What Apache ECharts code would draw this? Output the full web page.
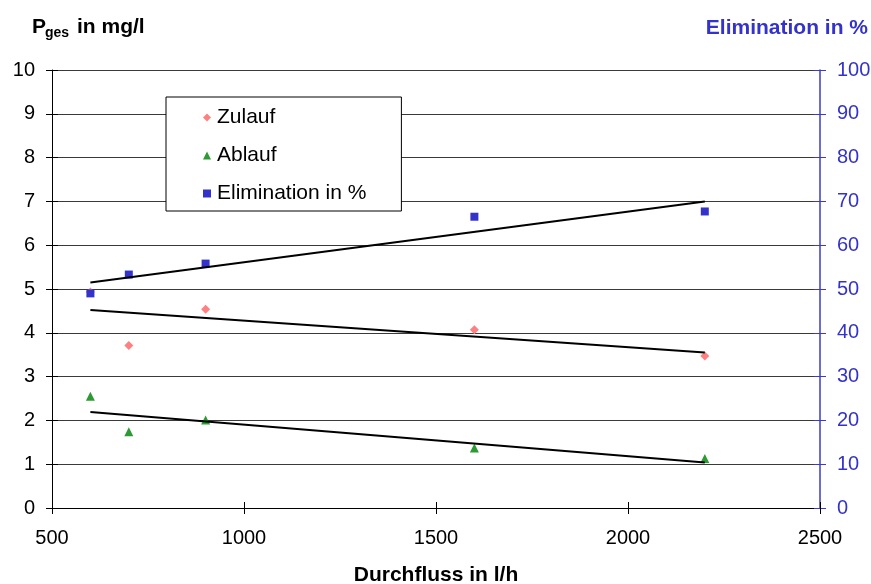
<!DOCTYPE html>
<html><head><meta charset="utf-8">
<script src="https://cdn.jsdelivr.net/npm/echarts@6/dist/echarts.min.js"></script>
<style>html,body{margin:0;padding:0;background:#fff}#c{width:871px;height:584px}</style>
</head><body><div id="c"></div>
<script>
// Data
const flow = [600, 700, 900, 1600, 2200];
const zulauf = [4.93, 3.71, 4.54, 4.07, 3.47];
const ablauf = [2.55, 1.74, 2.01, 1.37, 1.13];
const elimination = [49.0, 53.3, 55.8, 66.5, 67.7];
// Trend line end points
const trendFlow = [600, 2200];
const zulaufTrend = [4.52, 3.55];
const ablaufTrend = [2.19, 1.04];
const eliminationTrend = [51.5, 70.0];
const seriesNames = ['Zulauf', 'Ablauf', 'Elimination in %'];

const FONT = '"Liberation Sans", Arial, sans-serif';
const pairs = (xs, ys) => xs.map((x, i) => [x, ys[i]]);
const plain = v => String(v);

const chart = echarts.init(document.getElementById('c'), null, {renderer: 'canvas'});
const blue = '#3333cc';
const axisBlue = '#3b3bc4';

const xBase = {type: 'value', min: 500, max: 2500, interval: 500, gridIndex: 0};
const yLeftBase = {type: 'value', min: 0, max: 10, interval: 1};
const yRightBase = {type: 'value', min: 0, max: 100, interval: 10};

chart.setOption({
  animation: false,
  backgroundColor: '#fff',
  textStyle: {fontFamily: FONT},
  grid: {left: 52, right: 51, top: 70, bottom: 76, containLabel: false, outerBoundsMode: 'none'},
  legend: {
    orient: 'vertical',
    left: 166, top: 97,
    padding: [10, 35, 7, 37],
    itemGap: 17,
    itemWidth: 8, itemHeight: 8,
    backgroundColor: '#fff',
    borderColor: '#000', borderWidth: 1,
    textStyle: {fontFamily: FONT, fontSize: 21, color: '#000', lineHeight: 21, padding: [0, 0, 0, 1]},
    data: [
      {name: seriesNames[0], icon: 'diamond'},
      {name: seriesNames[1], icon: 'triangle'},
      {name: seriesNames[2], icon: 'rect'}
    ]
  },
  xAxis: [
    Object.assign({}, xBase, {
      position: 'bottom',
      name: 'Durchfluss in l/h', nameLocation: 'middle', nameGap: 57,
      nameTextStyle: {fontFamily: FONT, fontSize: 21, fontWeight: 'bold', color: '#000'},
      axisLine: {show: true, lineStyle: {color: '#000', width: 1}},
      axisTick: {show: true, inside: false, length: 6, lineStyle: {color: '#000'}},
      axisLabel: {fontFamily: FONT, fontSize: 20, color: '#000', margin: 20, formatter: plain},
      splitLine: {show: false}
    }),
    Object.assign({}, xBase, {
      position: 'bottom',
      axisLine: {show: false},
      axisTick: {show: true, inside: true, length: 6, lineStyle: {color: '#000'}},
      axisLabel: {show: false},
      splitLine: {show: false}
    })
  ],
  yAxis: [
    Object.assign({}, yLeftBase, {
      position: 'left',
      axisLine: {show: true, lineStyle: {color: '#000', width: 1}},
      axisTick: {show: true, inside: false, length: 6, lineStyle: {color: '#000'}},
      axisLabel: {fontFamily: FONT, fontSize: 20, color: '#000', margin: 17, formatter: plain},
      splitLine: {show: true, lineStyle: {color: '#3a3a3a', width: 1}}
    }),
    Object.assign({}, yRightBase, {
      position: 'right',
      axisLine: {show: true, lineStyle: {color: axisBlue, width: 1.5}},
      axisTick: {show: true, inside: false, length: 6, lineStyle: {color: axisBlue}},
      axisLabel: {fontFamily: FONT, fontSize: 20, color: blue, margin: 17, formatter: plain},
      splitLine: {show: false}
    }),
    Object.assign({}, yLeftBase, {
      position: 'left',
      axisLine: {show: false},
      axisTick: {show: true, inside: true, length: 6, lineStyle: {color: '#000'}},
      axisLabel: {show: false},
      splitLine: {show: false}
    }),
    Object.assign({}, yRightBase, {
      position: 'right',
      axisLine: {show: false},
      axisTick: {show: true, inside: true, length: 6, lineStyle: {color: axisBlue}},
      axisLabel: {show: false},
      splitLine: {show: false}
    })
  ],
  graphic: [
    {type: 'text', left: 32, top: 17, style: {text: 'P', font: 'bold 21px ' + FONT, fill: '#000'}},
    {type: 'text', left: 45, top: 26, style: {text: 'ges', font: 'bold 14px ' + FONT, fill: '#000'}},
    {type: 'text', left: 77, top: 17, style: {text: 'in mg/l', font: 'bold 21px ' + FONT, fill: '#000'}},
    {type: 'text', right: 3, top: 18, style: {text: 'Elimination in %', font: 'bold 21px ' + FONT, fill: blue}}
  ],
  series: [
    {
      name: seriesNames[0], type: 'scatter', xAxisIndex: 0, yAxisIndex: 0,
      symbol: 'diamond', symbolSize: 9,
      itemStyle: {color: '#ff8080', opacity: 1},
      data: pairs(flow, zulauf), z: 3
    },
    {
      name: seriesNames[1], type: 'scatter', xAxisIndex: 0, yAxisIndex: 0,
      symbol: 'triangle', symbolSize: 9,
      itemStyle: {color: '#2e9a34', opacity: 1},
      data: pairs(flow, ablauf), z: 3
    },
    {
      name: seriesNames[2], type: 'scatter', xAxisIndex: 0, yAxisIndex: 1,
      symbol: 'rect', symbolSize: 8,
      itemStyle: {color: blue, opacity: 1},
      data: pairs(flow, elimination), z: 4
    },
    {
      name: 'trendZ', type: 'line', xAxisIndex: 0, yAxisIndex: 0,
      showSymbol: false, symbol: 'none', silent: true,
      lineStyle: {color: '#000', width: 2},
      data: pairs(trendFlow, zulaufTrend), z: 5
    },
    {
      name: 'trendA', type: 'line', xAxisIndex: 0, yAxisIndex: 0,
      showSymbol: false, symbol: 'none', silent: true,
      lineStyle: {color: '#000', width: 2},
      data: pairs(trendFlow, ablaufTrend), z: 5
    },
    {
      name: 'trendE', type: 'line', xAxisIndex: 0, yAxisIndex: 1,
      showSymbol: false, symbol: 'none', silent: true,
      lineStyle: {color: '#000', width: 2},
      data: pairs(trendFlow, eliminationTrend), z: 5
    }
  ]
});
</script>
</body></html>
